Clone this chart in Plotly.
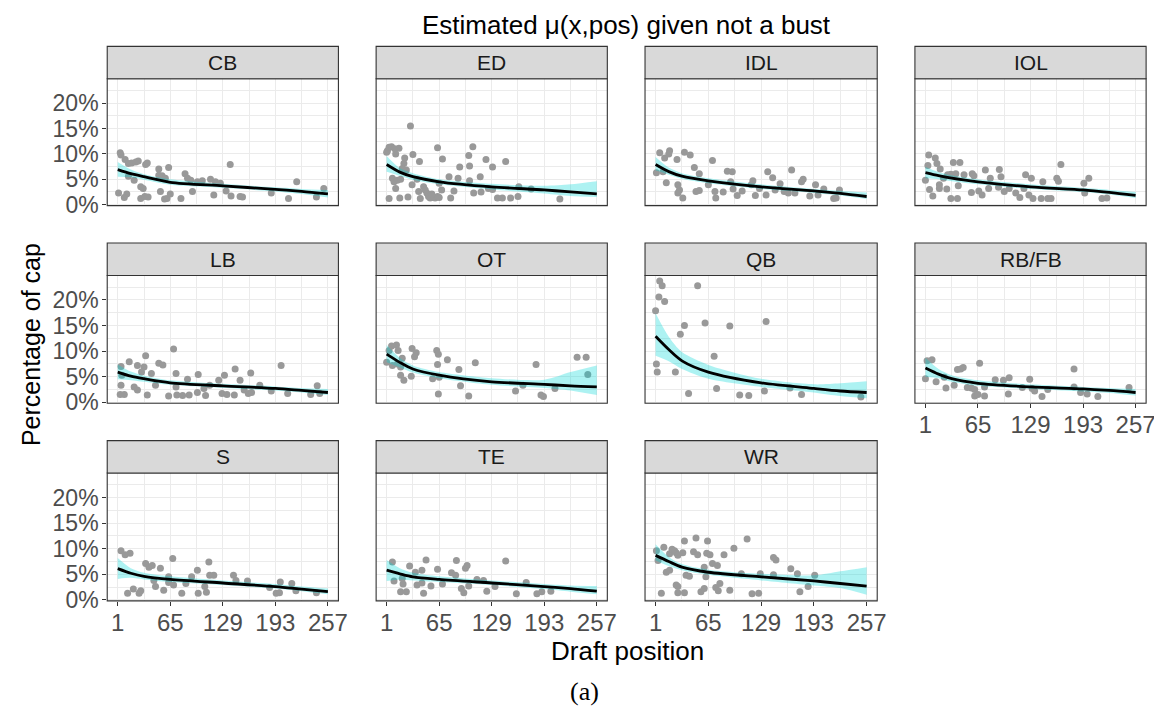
import plotly.graph_objects as go

W, H = 1162, 715
FONT = "Liberation Sans"

positions = ["CB", "ED", "IDL", "IOL", "LB", "OT", "QB", "RB/FB", "S", "TE", "WR"]
x_ticks = [1, 65, 129, 193, 257]
x_minor = [33, 97, 161, 225]
y_ticks = [0, 5, 10, 15, 20]
y_tick_labels = ["0%", "5%", "10%", "15%", "20%"]
y_minor = [2.5, 7.5, 12.5, 17.5, 22.5]

# observed points (draft position, % of cap)
cb_points = [(4, 10.2), (5, 9.8), (2, 2.3), (10, 8.9), (12, 2.1), (9, 1.4), (14, 8.1), (18, 8.2), (23, 8.4),
             (26, 8.6), (21, 4.8), (14, 5.6), (29, 3.5), (32, 3.2), (29, 1.2), (34, 1.6), (38, 1.5), (35, 7.9),
             (37, 8.2), (51, 7.0), (63, 7.3), (51, 5.8), (55, 5.7), (59, 5.2), (53, 2.6), (58, 1.1), (61, 1.2),
             (65, 2.1), (78, 1.2), (83, 6.1), (86, 5.2), (90, 4.8), (92, 2.6), (98, 4.5), (104, 4.7), (114, 5.0),
             (120, 4.5), (126, 4.2), (118, 1.9), (133, 2.7), (138, 7.9), (139, 1.7), (150, 1.6), (153, 1.5),
             (188, 2.3), (209, 1.2), (219, 4.5), (243, 1.5), (252, 3.2)]
ed_points = [(2, 10.6), (1, 10.3), (4, 11.3), (7, 11.4), (11, 11.0), (16, 11.1), (12, 10.0), (30, 15.5), (33, 9.9),
             (41, 8.5), (23, 9.2), (22, 8.1), (20, 7.1), (25, 6.8), (8, 5.2), (10, 4.5), (14, 4.8), (18, 5.0),
             (12, 3.2), (4, 1.2), (17, 1.3), (27, 1.5), (32, 3.9), (38, 5.0), (40, 2.6), (42, 1.2), (46, 3.5),
             (48, 2.9), (50, 2.3), (52, 1.6), (54, 1.3), (57, 1.4), (60, 1.3), (63, 1.6), (65, 1.4), (56, 2.1),
             (63, 11.2), (69, 9.0), (65, 4.2), (68, 2.9), (77, 5.5), (79, 1.3), (83, 2.7), (88, 5.2), (90, 7.4),
             (101, 9.7), (106, 11.4), (102, 7.6), (102, 4.7), (107, 2.3), (116, 2.5), (115, 5.5), (122, 8.9),
             (130, 7.4), (125, 3.2), (130, 3.0), (136, 1.3), (142, 1.3), (146, 8.5), (152, 1.3), (161, 1.6),
             (162, 3.5), (177, 3.1), (212, 1.1)]
idl_points = [(6, 10.2), (2, 6.3), (12, 9.2), (18, 10.6), (17, 10.0), (10, 6.5), (14, 4.3), (27, 8.9), (36, 10.3),
              (43, 9.8), (28, 3.9), (30, 2.9), (28, 2.3), (34, 1.3), (48, 7.3), (54, 6.1), (50, 2.6), (54, 2.8),
              (65, 3.9), (70, 8.7), (73, 2.6), (74, 1.3), (83, 2.5), (88, 6.6), (94, 6.5), (92, 4.5), (95, 3.1),
              (100, 1.8), (106, 2.7), (119, 4.7), (117, 3.9), (122, 1.8), (127, 3.2), (135, 1.9), (137, 6.5),
              (143, 5.3), (146, 2.9), (152, 4.1), (157, 2.6), (162, 2.3), (166, 6.8), (170, 2.3), (178, 4.5),
              (180, 5.0), (188, 1.7), (195, 3.9), (198, 1.9), (205, 3.1), (217, 1.2), (220, 1.3), (224, 2.9)]
iol_points = [(5, 9.8), (4, 7.7), (1, 4.8), (6, 3.0), (10, 1.7), (13, 9.2), (15, 8.1), (19, 7.0), (18, 3.9),
              (18, 3.2), (27, 3.1), (23, 5.2), (28, 5.9), (32, 6.0), (35, 8.3), (43, 8.3), (38, 6.1), (41, 3.7),
              (32, 1.2), (40, 1.2), (48, 5.9), (58, 6.1), (60, 5.7), (57, 2.4), (66, 2.7), (70, 1.9), (74, 6.8),
              (80, 5.2), (78, 3.2), (91, 6.9), (93, 5.5), (90, 3.4), (97, 2.6), (103, 3.2), (111, 2.3), (116, 1.4),
              (123, 5.9), (121, 3.2), (130, 5.2), (127, 1.9), (132, 1.2), (142, 1.2), (144, 4.5), (150, 1.2),
              (154, 1.2), (161, 5.2), (163, 4.6), (166, 7.9), (194, 4.2), (195, 2.3), (200, 5.2), (216, 1.2),
              (222, 1.3)]
lb_points = [(5, 7.0), (6, 5.3), (5, 3.3), (4, 1.5), (9, 1.5), (15, 7.9), (21, 3.0), (25, 2.4), (25, 7.2), (33, 6.9),
             (35, 9.1), (30, 5.9), (37, 1.4), (42, 5.6), (47, 3.3), (51, 7.6), (56, 7.3), (63, 1.2), (69, 10.4),
             (72, 5.6), (72, 3.0), (73, 1.4), (80, 1.3), (86, 4.5), (88, 1.4), (98, 1.9), (99, 5.4), (106, 2.7),
             (108, 1.3), (113, 3.3), (124, 4.3), (128, 1.7), (131, 5.3), (134, 1.5), (143, 1.4), (144, 6.5),
             (150, 4.3), (155, 2.4), (163, 5.7), (160, 1.7), (164, 1.9), (174, 3.3), (188, 2.2), (200, 7.2),
             (208, 1.7), (236, 1.5), (244, 3.2), (247, 1.7)]
ot_points = [(1, 7.8), (4, 10.1), (7, 11.0), (13, 11.2), (8, 7.2), (15, 10.1), (18, 6.9), (20, 8.6), (14, 7.5),
             (18, 5.3), (22, 4.3), (31, 5.1), (32, 10.5), (37, 9.7), (35, 8.9), (57, 4.6), (62, 10.1), (64, 9.4),
             (63, 7.4), (65, 4.9), (64, 1.6), (75, 8.3), (89, 6.4), (91, 3.2), (101, 1.2), (109, 7.7), (158, 2.2),
             (167, 3.3), (183, 7.4), (189, 1.4), (192, 1.1), (206, 2.7), (233, 8.8), (244, 8.8), (246, 5.4)]
qb_points = [(6, 23.7), (9, 22.8), (5, 20.6), (12, 19.7), (1, 17.9), (2, 7.5), (3, 5.9), (25, 5.9), (31, 13.3),
             (36, 15.0), (52, 22.8), (61, 15.5), (41, 1.7), (72, 9.0), (75, 2.7), (91, 14.9), (103, 1.4),
             (114, 1.3), (133, 2.2), (135, 15.8), (164, 2.8), (178, 1.5), (250, 1.0)]
rb_points = [(1, 4.6), (3, 8.1), (9, 8.3), (14, 4.0), (24, 4.9), (26, 2.8), (36, 3.3), (40, 6.4), (44, 6.5),
             (47, 6.8), (52, 2.9), (57, 2.8), (61, 2.5), (61, 1.2), (65, 1.5), (67, 7.6), (73, 3.0), (73, 1.2),
             (86, 4.4), (96, 4.3), (102, 1.6), (103, 4.8), (119, 2.9), (128, 4.5), (131, 2.7), (134, 2.2),
             (143, 1.1), (150, 2.5), (182, 6.5), (182, 3.0), (190, 1.9), (198, 1.6), (211, 1.1), (249, 2.9)]
s_points = [(5, 9.6), (10, 8.8), (16, 9.1), (13, 1.3), (20, 2.1), (27, 1.3), (29, 1.8), (35, 7.1), (39, 6.4),
            (43, 6.7), (45, 3.8), (47, 2.6), (53, 6.2), (57, 1.9), (63, 3.4), (63, 4.5), (68, 8.1), (69, 2.9),
            (79, 1.3), (84, 3.2), (91, 4.5), (98, 5.8), (99, 1.3), (107, 2.6), (109, 1.5), (112, 7.4), (113, 4.8),
            (118, 4.8), (142, 4.8), (145, 3.8), (159, 3.7), (186, 2.4), (194, 1.3), (198, 1.4), (199, 3.5),
            (213, 3.2), (218, 1.8), (243, 1.4)]
te_points = [(8, 7.4), (10, 3.7), (18, 1.6), (21, 3.1), (20, 4.2), (25, 1.6), (29, 6.6), (36, 5.4), (38, 2.9),
             (44, 5.8), (44, 3.3), (46, 1.3), (49, 7.8), (55, 2.7), (63, 6.0), (69, 3.1), (80, 5.3), (85, 4.8),
             (86, 7.7), (92, 2.2), (95, 1.4), (97, 6.2), (99, 6.7), (101, 2.7), (111, 4.0), (119, 3.8), (123, 1.7),
             (133, 2.6), (146, 7.6), (159, 1.2), (171, 3.4), (184, 1.2), (190, 1.6), (201, 1.7)]
wr_points = [(2, 9.6), (4, 7.7), (11, 10.3), (14, 5.4), (8, 1.3), (18, 5.8), (18, 9.0), (21, 9.9), (24, 9.6),
             (26, 9.2), (28, 8.7), (26, 2.9), (28, 2.6), (28, 1.4), (34, 9.2), (36, 11.5), (38, 4.8), (42, 4.6),
             (36, 1.4), (47, 9.4), (50, 12.1), (52, 8.8), (56, 1.6), (60, 2.2), (62, 4.5), (60, 6.4), (64, 11.5),
             (63, 9.1), (67, 8.8), (70, 7.1), (76, 6.7), (74, 2.4), (79, 3.2), (77, 1.8), (84, 8.8), (91, 1.9),
             (96, 10.1), (105, 5.1), (112, 11.9), (118, 1.2), (126, 1.3), (128, 5.1), (144, 8.3), (147, 7.8),
             (144, 4.9), (165, 6.1), (173, 5.1), (176, 1.6), (186, 2.6), (194, 4.8)]

# fitted curve and confidence band, read at these draft positions
fit_x = [1, 17, 33, 65, 129, 193, 225, 257]
cb_fit = [6.9, 6.1, 5.5, 4.4, 3.7, 3.0, 2.6, 2.1]
cb_lo = [5.5, 5.4, 4.9, 3.9, 3.3, 2.6, 2.1, 1.4]
cb_hi = [8.4, 6.9, 6.0, 5.0, 4.1, 3.4, 3.1, 2.9]
ed_fit = [7.9, 6.4, 5.5, 4.5, 3.5, 2.9, 2.5, 2.1]
ed_lo = [6.5, 5.7, 4.9, 4.0, 3.0, 2.2, 1.7, 1.5]
ed_hi = [9.6, 7.2, 6.2, 5.0, 4.1, 3.7, 4.0, 4.6]
idl_fit = [7.9, 6.5, 5.6, 4.7, 3.5, 2.7, 2.2, 1.6]
idl_lo = [6.7, 5.9, 5.1, 4.2, 3.1, 2.3, 1.8, 1.1]
idl_hi = [9.4, 7.3, 6.2, 5.2, 4.0, 3.1, 2.7, 2.4]
iol_fit = [6.3, 5.7, 5.2, 4.5, 3.5, 2.9, 2.4, 1.8]
iol_lo = [5.2, 5.0, 4.6, 4.0, 3.1, 2.5, 2.0, 1.3]
iol_hi = [7.4, 6.4, 5.8, 5.0, 4.0, 3.3, 2.9, 2.5]
lb_fit = [5.9, 5.1, 4.6, 3.8, 3.2, 2.7, 2.3, 1.9]
lb_lo = [4.5, 4.3, 4.0, 3.4, 2.8, 2.3, 1.9, 1.4]
lb_hi = [7.4, 6.0, 5.2, 4.3, 3.6, 3.1, 2.8, 2.6]
ot_fit = [9.4, 7.8, 6.5, 5.3, 4.0, 3.5, 3.2, 3.0]
ot_lo = [7.8, 6.8, 5.8, 4.7, 3.4, 2.8, 2.3, 1.4]
ot_hi = [11.2, 8.7, 7.2, 5.9, 4.7, 4.4, 5.9, 7.2]
qb_fit = [12.9, 10.3, 8.1, 5.9, 3.8, 2.7, 2.2, 1.9]
qb_lo = [9.1, 8.0, 6.5, 4.6, 3.0, 1.9, 1.2, 0.8]
qb_hi = [17.4, 12.8, 9.8, 7.3, 4.6, 3.5, 3.7, 4.1]
rb_fit = [6.7, 5.5, 4.6, 3.7, 3.0, 2.6, 2.3, 1.9]
rb_lo = [5.0, 4.7, 4.0, 3.2, 2.6, 2.1, 1.8, 1.3]
rb_hi = [8.7, 6.5, 5.3, 4.3, 3.5, 3.0, 2.8, 2.6]
s_fit = [6.1, 5.2, 4.6, 4.0, 3.3, 2.6, 2.1, 1.6]
s_lo = [4.1, 4.3, 4.0, 3.5, 2.9, 2.2, 1.7, 1.1]
s_hi = [8.2, 6.2, 5.3, 4.6, 3.8, 3.1, 2.6, 2.2]
te_fit = [5.8, 5.1, 4.5, 4.0, 3.3, 2.6, 2.2, 1.7]
te_lo = [3.7, 4.0, 3.8, 3.5, 2.9, 2.1, 1.6, 1.1]
te_hi = [7.8, 6.2, 5.3, 4.6, 3.8, 3.1, 2.8, 2.7]
wr_fit = [8.7, 7.5, 6.4, 5.4, 4.5, 3.7, 3.2, 2.7]
wr_lo = [7.7, 6.6, 5.8, 4.9, 3.8, 2.8, 2.3, 1.0]
wr_hi = [10.9, 8.4, 7.0, 5.9, 5.1, 4.8, 5.6, 6.4]

panels = {
    "CB": (cb_points, cb_fit, cb_lo, cb_hi),
    "ED": (ed_points, ed_fit, ed_lo, ed_hi),
    "IDL": (idl_points, idl_fit, idl_lo, idl_hi),
    "IOL": (iol_points, iol_fit, iol_lo, iol_hi),
    "LB": (lb_points, lb_fit, lb_lo, lb_hi),
    "OT": (ot_points, ot_fit, ot_lo, ot_hi),
    "QB": (qb_points, qb_fit, qb_lo, qb_hi),
    "RB/FB": (rb_points, rb_fit, rb_lo, rb_hi),
    "S": (s_points, s_fit, s_lo, s_hi),
    "TE": (te_points, te_fit, te_lo, te_hi),
    "WR": (wr_points, wr_fit, wr_lo, wr_hi),
}

# layout geometry (pixels)
cols_px = [(100, 333), (371, 604), (642, 876), (914, 1147)]
rows_px = [(72, 201), (272, 402), (473, 603)]
STRIP_H = 33

def px_x(v):
    return v / W

def px_y(v):
    return 1 - v / H

fig = go.Figure()
shapes = []
annotations = []
layout_axes = {}

x_bottom = {"RB/FB", "S", "TE", "WR"}

for i, pos in enumerate(positions):
    r, c = divmod(i, 4)
    k = i + 1
    xs = "" if k == 1 else str(k)
    x0, x1 = cols_px[c]
    y0, y1 = rows_px[r]
    pts, fit, lo, hi = panels[pos]
    px = [p[0] for p in pts]
    py = [p[1] for p in pts]
    xa, ya = "x" + xs, "y" + xs

    fig.add_trace(go.Scatter(x=px, y=py, mode="markers", xaxis=xa, yaxis=ya,
                             marker=dict(color="#999999", size=7, line=dict(width=0)),
                             showlegend=False, hoverinfo="skip"))
    fig.add_trace(go.Scatter(x=fit_x, y=lo, mode="lines", xaxis=xa, yaxis=ya,
                             line=dict(width=0, shape="spline", smoothing=0.8, color="rgba(0,0,0,0)"),
                             showlegend=False, hoverinfo="skip"))
    fig.add_trace(go.Scatter(x=fit_x, y=hi, mode="lines", xaxis=xa, yaxis=ya, fill="tonexty",
                             fillcolor="rgba(0,214,214,0.32)",
                             line=dict(width=0, shape="spline", smoothing=0.8, color="rgba(0,0,0,0)"),
                             showlegend=False, hoverinfo="skip"))
    fig.add_trace(go.Scatter(x=fit_x, y=fit, mode="lines", xaxis=xa, yaxis=ya,
                             line=dict(width=2.8, shape="spline", smoothing=0.8, color="black"),
                             showlegend=False, hoverinfo="skip"))

    show_x = pos in x_bottom
    show_y = c == 0
    layout_axes["xaxis" + xs] = dict(
        domain=[px_x(x0), px_x(x1)], anchor=ya, range=[-11.8, 269.8],
        tickvals=x_ticks, ticktext=[str(t) for t in x_ticks], showticklabels=show_x,
        ticks="outside" if show_x else "", ticklen=4, tickwidth=1.1, tickcolor="#333333",
        tickfont=dict(family=FONT, size=24, color="#4D4D4D"), ticklabelstandoff=-4,
        showgrid=True, gridcolor="#EBEBEB", gridwidth=1.1, zeroline=False, showline=False,
        minor=dict(tickvals=x_minor, showgrid=True, gridcolor="#EBEBEB", gridwidth=0.55, ticks=""),
        fixedrange=True,
    )
    layout_axes["yaxis" + xs] = dict(
        domain=[px_y(y1), px_y(y0)], anchor=xa, range=[-0.2, 24.8],
        tickvals=y_ticks, ticktext=y_tick_labels, showticklabels=show_y,
        ticks="outside" if show_y else "", ticklen=4, tickwidth=1.1, tickcolor="#333333",
        tickfont=dict(family=FONT, size=23, color="#4D4D4D"), ticklabelstandoff=-1,
        showgrid=True, gridcolor="#EBEBEB", gridwidth=1.1, zeroline=False, showline=False,
        minor=dict(tickvals=y_minor, showgrid=True, gridcolor="#EBEBEB", gridwidth=0.55, ticks=""),
        fixedrange=True,
    )
    # panel border
    shapes.append(dict(type="rect", xref="paper", yref="paper", layer="above",
                       x0=px_x(x0), x1=px_x(x1), y0=px_y(y1), y1=px_y(y0),
                       line=dict(color="#333333", width=1.1), fillcolor="rgba(0,0,0,0)"))
    # strip
    shapes.append(dict(type="rect", xref="paper", yref="paper", layer="above",
                       x0=px_x(x0), x1=px_x(x1), y0=px_y(y0), y1=px_y(y0 - STRIP_H),
                       line=dict(color="#333333", width=1.1), fillcolor="#D9D9D9"))
    annotations.append(dict(text=pos, xref="paper", yref="paper", showarrow=False,
                            x=px_x((x0 + x1) / 2), y=px_y(y0 - STRIP_H / 2),
                            xanchor="center", yanchor="middle",
                            font=dict(family=FONT, size=21, color="#1A1A1A")))

annotations.append(dict(text="Estimated μ(x,pos) given not a bust", xref="paper", yref="paper",
                        showarrow=False, x=px_x(623), y=px_y(17), xanchor="center", yanchor="middle",
                        font=dict(family=FONT, size=26, color="black")))
annotations.append(dict(text="Draft position", xref="paper", yref="paper", showarrow=False,
                        x=px_x(624), y=px_y(654), xanchor="center", yanchor="middle",
                        font=dict(family=FONT, size=26, color="black")))
annotations.append(dict(text="Percentage of cap", xref="paper", yref="paper", showarrow=False,
                        x=px_x(23), y=px_y(342), xanchor="center", yanchor="middle", textangle=-90,
                        font=dict(family=FONT, size=25, color="black")))
annotations.append(dict(text="(a)", xref="paper", yref="paper", showarrow=False,
                        x=px_x(581), y=px_y(695), xanchor="center", yanchor="middle",
                        font=dict(family="Liberation Serif", size=26, color="black")))

fig.update_layout(
    width=W, height=H, margin=dict(l=0, r=0, t=0, b=0),
    paper_bgcolor="white", plot_bgcolor="white",
    shapes=shapes, annotations=annotations, showlegend=False,
    **layout_axes,
)

fig.write_html("out.html", config={"displayModeBar": False})
